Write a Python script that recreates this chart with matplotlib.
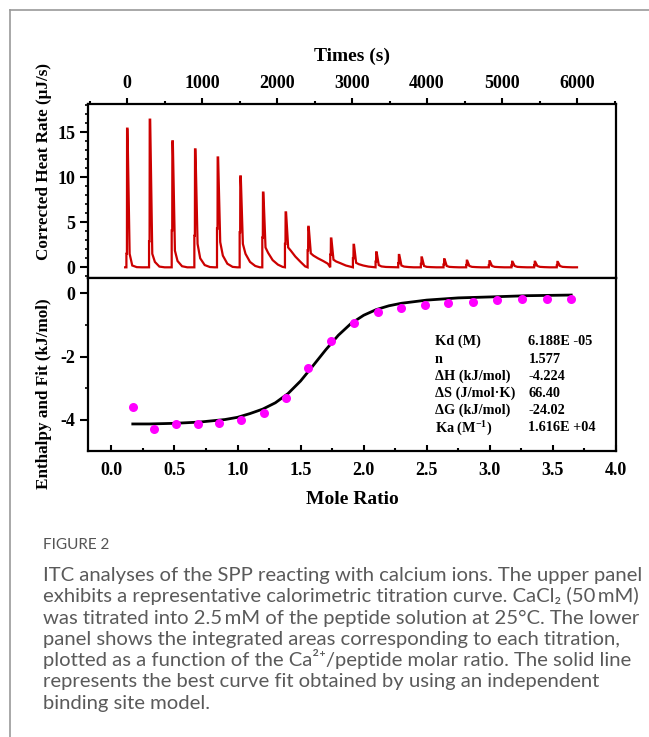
import matplotlib
matplotlib.use('Agg')
import matplotlib.pyplot as plt
from matplotlib.lines import Line2D
from matplotlib.ticker import MultipleLocator

# %%
# upper panel: raw thermogram, 20 injections
inj_time = [0, 302, 604, 906, 1208, 1510, 1812, 2114, 2416, 2718,
            3020, 3322, 3624, 3926, 4228, 4530, 4832, 5134, 5436, 5738]
peak_height = [15.4, 16.4, 14.0, 13.1, 12.2, 10.1, 8.3, 6.1, 4.5, 3.2,
               2.5, 1.67, 1.37, 1.1, 0.9, 0.74, 0.68, 0.62, 0.62, 0.6]
step_height = [1.5, 2.9, 4.1, 3.5, 4.3, 3.9, 3.3, 2.6, 1.9, 1.4,
               1.0, 0.63, 0.44, 0.37, 0.3, 0.25, 0.22, 0.2, 0.2, 0.2]
# trace level after each spike, at +35, +70, +130, +200, +262 s
tail_35 = [1.5, 1.5, 1.85, 2.6, 2.8, 2.6, 2.2, 2.2, 1.55, 0.85,
           0.5, 0.25, 0.2, 0.15, 0.15, 0.15, 0.15, 0.15, 0.15, 0.15]
tail_70 = [0.2, 0.6, 0.7, 1.0, 1.3, 1.5, 1.6, 1.85, 1.3, 0.65,
           0.35, 0.1, 0.08, 0.05, 0.05, 0.05, 0.05, 0.05, 0.05, 0.05]
tail_130 = [0.02, 0.08, 0.12, 0.25, 0.4, 0.6, 0.8, 1.2, 1.0, 0.45,
            0.2, 0.04, 0.03, 0.02, 0.02, 0.02, 0.02, 0.02, 0.02, 0.02]
tail_200 = [0, 0, 0, 0.03, 0.05, 0.15, 0.3, 0.6, 0.7, 0.2,
            0.08, 0.02, 0, 0, 0, 0, 0, 0, 0, 0]
tail_262 = [0, 0, 0, 0, 0, 0, 0.05, 0.1, 0.4, 0.07,
            0.03, 0, 0, 0, 0, 0, 0, 0, 0, 0]

# lower panel: integrated heats and fitted curve
mole_ratio = [0.17, 0.34, 0.51, 0.685, 0.855, 1.03, 1.21, 1.385, 1.56, 1.745,
              1.925, 2.11, 2.295, 2.485, 2.67, 2.865, 3.06, 3.255, 3.45, 3.645]
enthalpy = [-3.59, -4.28, -4.12, -4.14, -4.09, -4.01, -3.78, -3.31, -2.35, -1.49,
            -0.93, -0.58, -0.46, -0.36, -0.29, -0.26, -0.21, -0.19, -0.17, -0.16]
fit_ratio = [0.17, 0.3, 0.5, 0.7, 0.9, 1.0, 1.1, 1.2, 1.3, 1.4, 1.5, 1.6, 1.7,
             1.8, 1.9, 2.0, 2.1, 2.2, 2.3, 2.5, 2.75, 3.0, 3.3, 3.645]
fit_enthalpy = [-4.13, -4.13, -4.11, -4.07, -3.99, -3.92, -3.80, -3.66, -3.46,
                -3.17, -2.77, -2.28, -1.78, -1.32, -0.95, -0.69, -0.51, -0.39,
                -0.31, -0.21, -0.14, -0.11, -0.07, -0.05]

param_names = ['Kd (M)', 'n', 'ΔH (kJ/mol)', 'ΔS (J/mol·K)', 'ΔG (kJ/mol)',
               r'Ka (M$^{\mathbf{-1}}$)']
param_values = ['6.188E -05', '1.577', '-4.224', '66.40', '-24.02', '1.616E +04']

caption_lines = [
    'ITC analyses of the SPP reacting with calcium ions. The upper panel',
    'exhibits a representative calorimetric titration curve. CaCl\u2082 (50\u2009mM)',
    'was titrated into 2.5\u2009mM of the peptide solution at 25\u00b0C. The lower',
    'panel shows the integrated areas corresponding to each titration,',
    'plotted as a function of the Ca\u00b2\u207a/peptide molar ratio. The solid line',
    'represents the best curve fit obtained by using an independent',
    'binding site model.',
]

# %%
plt.rcParams['font.family'] = 'Liberation Serif'
plt.rcParams['font.weight'] = 'bold'
plt.rcParams['axes.unicode_minus'] = False
plt.rcParams['mathtext.fontset'] = 'custom'
plt.rcParams['mathtext.rm'] = 'Liberation Serif:bold'
plt.rcParams['mathtext.bf'] = 'Liberation Serif:bold'

W, H = 649, 737
fig = plt.figure(figsize=(W / 100, H / 100), dpi=100)

# page frame lines
fig.add_artist(Line2D([9.5 / W, 1], [1 - 10 / H, 1 - 10 / H],
                      transform=fig.transFigure, color='#9a9a9a', lw=1.2))
fig.add_artist(Line2D([9.5 / W, 9.5 / W], [0, 1 - 10 / H],
                      transform=fig.transFigure, color='#9a9a9a', lw=1.2))

left, width = 88 / W, 528 / W
ax1 = fig.add_axes([left, 1 - 278.3 / H, width, 174.3 / H])
ax2 = fig.add_axes([left, 1 - 450.5 / H, width, 172.2 / H])

# build thermogram trace from the read values
t_trace, q_trace = [-25, -8], [0, 0]
for i, t in enumerate(inj_time):
    t_trace += [t - 8, t - 8, t - 1, t + 1, t + 7,
                t + 35, t + 70, t + 130, t + 200, t + 262]
    q_trace += [0, step_height[i], step_height[i], peak_height[i], peak_height[i],
                tail_35[i], tail_70[i], tail_130[i], tail_200[i], tail_262[i]]

ax1.plot(t_trace, q_trace, color='#cc0000', lw=1.6, solid_joinstyle='miter')
ax1.set_xlim(-520, 6520)
ax1.set_ylim(-1.22, 18.14)
ax1.xaxis.tick_top()
ax1.xaxis.set_label_position('top')
ax1.set_xticks([0, 1000, 2000, 3000, 4000, 5000, 6000])
ax1.xaxis.set_minor_locator(MultipleLocator(500))
ax1.set_yticks([0, 5, 10, 15])
ax1.yaxis.set_minor_locator(MultipleLocator(1))
ax1.tick_params(axis='x', which='both', direction='out', top=True, bottom=False,
                labeltop=True, labelbottom=False, labelsize=13, pad=4)
ax1.tick_params(axis='x', which='major', length=4.5, width=1.5)
ax1.tick_params(axis='x', which='minor', length=2, width=1.5)
ax1.tick_params(axis='y', which='major', direction='out', length=6, width=1.5,
                labelsize=13, pad=3, right=False)
ax1.tick_params(axis='y', which='minor', direction='out', length=2.5, width=1.2,
                right=False)
ax1.set_xlabel('Times (s)', fontsize=14, fontweight='bold', labelpad=10)

ax2.plot(fit_ratio, fit_enthalpy, color='black', lw=2.0)
ax2.plot(mole_ratio, enthalpy, 'o', color='#ff00ff', ms=6.5, mec='none')
ax2.set_xlim(-0.185, 3.98)
ax2.set_ylim(-4.97, 0.48)
ax2.set_xticks([0, 0.5, 1.0, 1.5, 2.0, 2.5, 3.0, 3.5, 4.0])
ax2.set_xticklabels(['0.0', '0.5', '1.0', '1.5', '2.0', '2.5', '3.0', '3.5', '4.0'])
ax2.xaxis.set_minor_locator(MultipleLocator(0.25))
ax2.set_yticks([0, -2, -4])
ax2.yaxis.set_minor_locator(MultipleLocator(1))
ax2.tick_params(axis='x', which='major', direction='in', length=4.5, width=1.5,
                labelsize=13, pad=8, top=False)
ax2.tick_params(axis='x', which='minor', direction='in', length=2, width=1.5, top=False)
ax2.tick_params(axis='y', which='major', direction='out', length=6, width=1.5,
                labelsize=13, pad=3, right=False)
ax2.tick_params(axis='y', which='minor', direction='out', length=2.5, width=1.2,
                right=False)
ax2.set_xlabel('Mole Ratio', fontsize=14, fontweight='bold', labelpad=9)

row_y = [-1.51, -2.08, -2.62, -3.16, -3.71, -4.24]
for name, val, y in zip(param_names, param_values, row_y):
    ax2.text(2.563, y, name, fontsize=10.3, fontweight='bold', va='center', ha='left')
    ax2.text(3.306, y, val, fontsize=10.3, fontweight='bold', va='center', ha='left')

for ax in (ax1, ax2):
    for s in ax.spines.values():
        s.set_linewidth(1.6)

fig.text(44 / W, 1 - 162 / H, 'Corrected Heat Rate (μJ/s)', rotation=90,
         fontsize=12.3, fontweight='bold', ha='center', va='center')
fig.text(44 / W, 1 - 394 / H, 'Enthalpy and Fit (kJ/mol)', rotation=90,
         fontsize=12.3, fontweight='bold', ha='center', va='center')

# caption; font size chosen so the first line spans the same width as the original
cap_font = ['Lato', 'Open Sans', 'DejaVu Sans']
renderer = fig.canvas.get_renderer()
probe = fig.text(0, 0, caption_lines[0], family=cap_font, fontsize=10,
                 fontweight='normal')
probe_w = probe.get_window_extent(renderer).width
probe.remove()
cap_size = 10 * 598 / probe_w

fig.text(42.7 / W, 1 - 549 / H, 'FIGURE 2', family=cap_font, fontsize=11,
         fontweight='normal', color='#555555', ha='left', va='baseline')
baseline_y = [581, 602.3, 623.6, 644.9, 666.2, 687.5, 708.8]
for txt, y in zip(caption_lines, baseline_y):
    fig.text(42.7 / W, 1 - y / H, txt, family=cap_font, fontsize=cap_size,
             fontweight='normal', color='#5a5a5a', ha='left', va='baseline')

fig.savefig('out.png', dpi=100)
